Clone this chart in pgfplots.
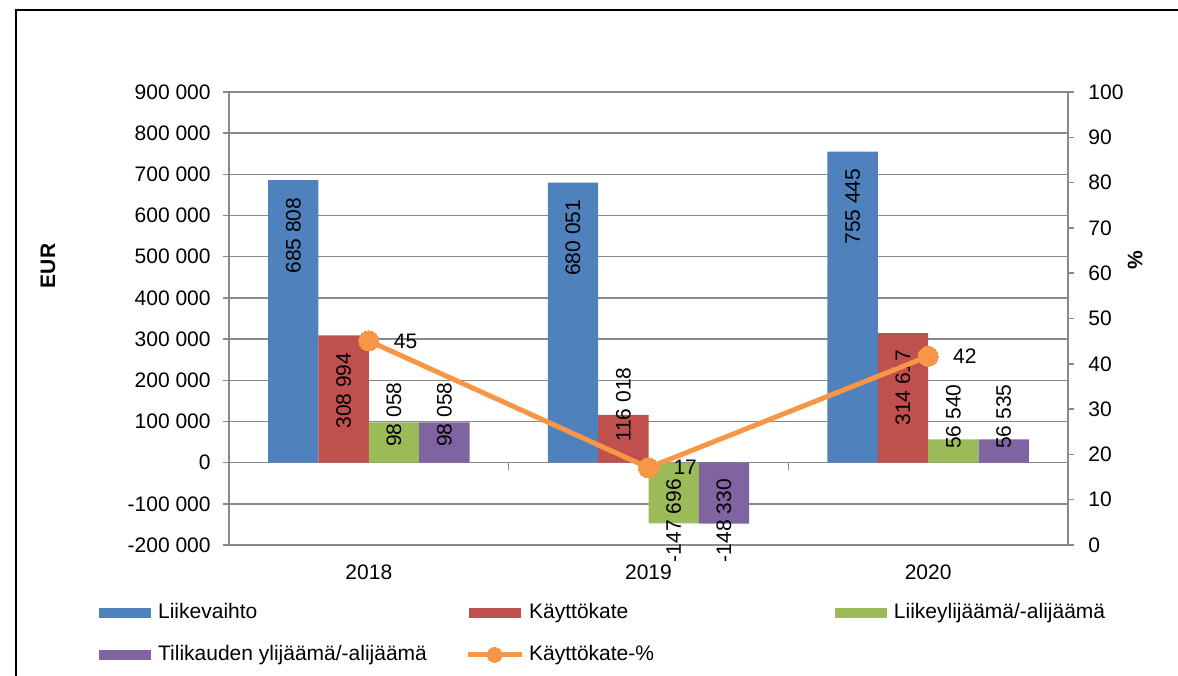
\documentclass[border=0pt]{standalone}
\usepackage{pgfplots}
\pgfplotsset{compat=1.18}
\usepackage{fontspec}
\setmainfont{Liberation Sans}
\definecolor{cBlue}{HTML}{4F81BD}
\definecolor{cRed}{HTML}{C0504D}
\definecolor{cGreen}{HTML}{9BBB59}
\definecolor{cPurple}{HTML}{8064A2}
\definecolor{cOrange}{HTML}{F79646}
\definecolor{gridgray}{HTML}{898989}
\begin{document}
\fontsize{10.5}{12.6}\selectfont
\begin{tikzpicture}
\pgfplotsset{
  common/.style={
    at={(114.5pt,65pt)}, anchor=south west,
    scale only axis, width=419.5pt, height=226.5pt,
    xmin=-0.5, xmax=2.5,
    tick align=outside, major tick length=3pt,
    tick style={draw=gridgray, line width=0.75pt},
    axis line style={draw=gridgray, line width=0.75pt},
    /pgf/number format/.cd, 1000 sep={\ }, fixed, precision=0, assume math mode=true,
  },
}
\begin{axis}[common,
  ymin=-200000, ymax=900000,
  ytick={-200000,-100000,0,100000,200000,300000,400000,500000,600000,700000,800000,900000},
  scaled y ticks=false,
  ytick pos=left,
  ymajorgrids, grid style={draw=gridgray, line width=0.75pt},
  xtick={0,1,2}, xticklabels={2018,2019,2020},
  xtick style={draw=none},
  yticklabel style={xshift=-2.5pt},
  xticklabel style={yshift=-3pt},
  ylabel={\bfseries EUR},
  ylabel style={at={(axis description cs:-0.2157,0.616)}, anchor=center},
]
\addplot[ybar, bar width=0.18, bar shift=-0.27, fill=cBlue, draw=none] coordinates {(0,685808) (1,680051) (2,755445)};
\addplot[ybar, bar width=0.18, bar shift=-0.09, fill=cRed, draw=none] coordinates {(0,308994) (1,116018) (2,314617)};
\addplot[ybar, bar width=0.18, bar shift=0.09, fill=cGreen, draw=none] coordinates {(0,98058) (1,-147696) (2,56540)};
\addplot[ybar, bar width=0.18, bar shift=0.27, fill=cPurple, draw=none] coordinates {(0,98058) (1,-148330) (2,56535)};
% value labels (label centre positions)
\addplot[draw=none, mark=none, forget plot, point meta=explicit,
  nodes near coords={\pgfmathprintnumber{\pgfplotspointmeta}},
  nodes near coords style={rotate=90, anchor=center, inner sep=0pt, text=black}]
  table[x=x, y=y, meta=v] {
x y v
-0.27 551200 685808
0.73 546000 680051
1.73 621700 755445
-0.09 174800 308994
0.91 140800 116018
1.91 182100 314617
0.09 116600 98058
1.09 -140800 -147696
2.09 111700 56540
0.27 116600 98058
1.27 -140800 -148330
2.27 111700 56535
};
\draw[gridgray, line width=0.75pt] (axis cs:0.5,0) -- ++(0pt,-3.5pt);
\draw[gridgray, line width=0.75pt] (axis cs:1.5,0) -- ++(0pt,-3.5pt);
\draw[gridgray, line width=0.75pt] (axis cs:-0.5,0) -- ++(0pt,-3.5pt);
\end{axis}
\begin{axis}[common,
  ymin=0, ymax=100, ytick={0,10,...,100},
  axis y line*=right, axis x line=none,
  yticklabel style={xshift=3.5pt},
  ylabel={\bfseries \%},
  ylabel style={at={(axis description cs:1.0799,0.629)}, anchor=center},
  legend columns=3,
  legend style={at={(axis description cs:-0.155,-0.1126)}, anchor=north west,
    draw=none, fill=none, inner sep=0pt, nodes={inner sep=3.5pt, anchor=west},
    /tikz/column sep=0pt, /tikz/row sep=5pt},
]
\addlegendimage{legend image code/.code={\fill[cBlue] (-12.75pt,-2.25pt) rectangle (12.75pt,2.25pt);}}
\addlegendentry{\makebox[150pt][l]{Liikevaihto}}
\addlegendimage{legend image code/.code={\fill[cRed] (-12.75pt,-2.25pt) rectangle (12.75pt,2.25pt);}}
\addlegendentry{\hspace{-1pt}\makebox[149.5pt][l]{Käyttökate}}
\addlegendimage{legend image code/.code={\fill[cGreen] (-12.75pt,-2.25pt) rectangle (12.75pt,2.25pt);}}
\addlegendentry{Liikeylijäämä/-alijäämä}
\addlegendimage{legend image code/.code={\fill[cPurple] (-12.75pt,-2.25pt) rectangle (12.75pt,2.25pt);}}
\addlegendentry{\makebox[150pt][l]{Tilikauden ylijäämä/-alijäämä}}
\addplot[cOrange, line width=2.5pt, mark=*, mark size=5pt, mark options={fill=cOrange, draw=cOrange, line width=0pt},
  point meta=y,
  nodes near coords={\pgfmathprintnumber{\pgfplotspointmeta}},
  nodes near coords style={anchor=west, xshift=9pt, text=black, inner sep=3.5pt},
  legend image code/.code={\draw[cOrange, line width=2.5pt] (-13.5pt,0pt) -- (13.5pt,0pt); \fill[cOrange] (0pt,0pt) circle (2.75pt);}]
  coordinates {(0,45.05) (1,17.06) (2,41.65)};
\addlegendentry{\hspace{-1pt}\makebox[149.5pt][l]{Käyttökate-\%}}
\end{axis}
\draw[black, line width=1pt] (8pt,-10pt) -- (8pt,332.5pt) -- (620pt,332.5pt);
\pgfresetboundingbox
\useasboundingbox (0pt,0pt) rectangle (589pt,337.5pt);
\end{tikzpicture}
\end{document}
